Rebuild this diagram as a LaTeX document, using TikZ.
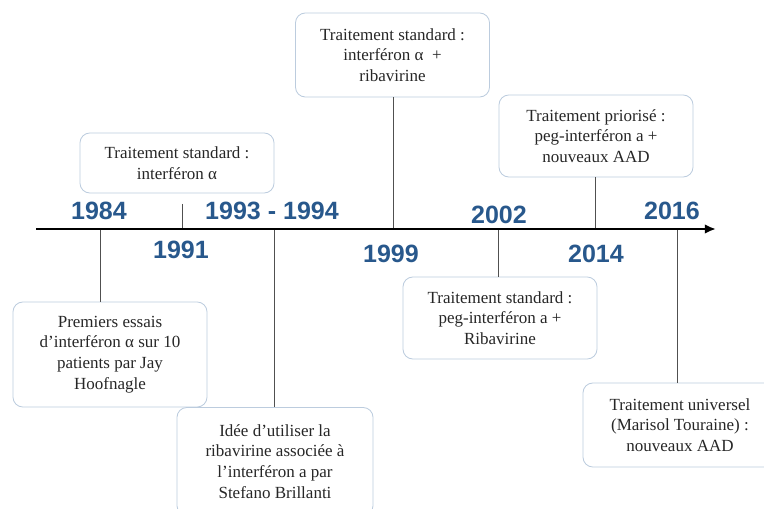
\documentclass[tikz,border=0pt]{standalone}
\usepackage{fontspec}
\setmainfont{Liberation Serif}
\newfontfamily\yearfont{Liberation Sans}
\usetikzlibrary{arrows.meta}
\definecolor{yearblue}{RGB}{40,88,140}
\definecolor{boxline}{RGB}{188,204,222}
\definecolor{stem}{RGB}{80,80,80}

\begin{document}
\begin{tikzpicture}[x=0.25mm,y=-0.25mm,
        evt/.style={draw=boxline,line width=0.6pt,rounded corners=7pt,align=center,
            minimum width=48.5mm,inner sep=0pt,text=black!85,
            font=\fontsize{12.1}{14.8}\selectfont},
        annee/.style={text=yearblue,font=\yearfont\bfseries\fontsize{17.8}{20}\selectfont}]
            \useasboundingbox (0,0) rectangle (764,509);

            % boxes above the line
            \node [evt,minimum height=15mm] (std1) at (177,163) {Traitement standard :\\interféron α};
            \node [evt,minimum height=21mm] (std2) at (392.5,55) {Traitement standard :\\interféron α\ \ +\\ribavirine};
            \node [evt,minimum height=20.5mm] (prio) at (596,136) {Traitement priorisé :\\peg-interféron a +\\nouveaux AAD};

            % boxes below the line
            \node [evt,minimum height=26.25mm] (essais) at (110,354.5) {Premiers essais\\d’interféron α sur 10\\patients par Jay\\Hoofnagle};
            \node [evt,minimum height=27mm,minimum width=49mm] (idee) at (275,461.5) {Idée d’utiliser la\\ribavirine associée à\\l’interféron a par\\Stefano Brillanti};
            \node [evt,minimum height=20.5mm] (peg) at (500,318) {Traitement standard :\\peg-interféron a +\\Ribavirine};
            \node [evt,minimum height=21mm] (univ) at (680,425) {Traitement universel\\(Marisol Touraine) :\\nouveaux AAD};

            % years
            \node [annee] (y1984) at (99,211) {1984};
            \node [annee] (y1991) at (181,250) {1991};
            \node [annee] (y1993) at (272,211) {1993 - 1994};
            \node [annee] (y1999) at (391,254) {1999};
            \node [annee] (y2002) at (499,215) {2002};
            \node [annee] (y2014) at (596,254) {2014};
            \node [annee] (y2016) at (672,211) {2016};

            \coordinate (start) at (36,229);
            \coordinate (end) at (716,229);
            \coordinate (t1984) at (100,229);
            \coordinate (t1991) at (182,229);
            \coordinate (s1991) at (182,204);
            \coordinate (t1993) at (274,229);
            \coordinate (t1999) at (393,229);
            \coordinate (t2002) at (498,229);
            \coordinate (t2014) at (595,229);
            \coordinate (t2016) at (677,229);

            \draw [stem,line width=0.7pt] (t1984) -- (t1984 |- essais.north);
            \draw [stem,line width=0.7pt] (s1991) -- (t1991);
            \draw [stem,line width=0.7pt] (t1993) -- (t1993 |- idee.north);
            \draw [stem,line width=0.7pt] (t1999) -- (t1999 |- std2.south);
            \draw [stem,line width=0.7pt] (t2002) -- (t2002 |- peg.north);
            \draw [stem,line width=0.7pt] (t2014) -- (t2014 |- prio.south);
            \draw [stem,line width=0.7pt] (t2016) -- (t2016 |- univ.north);

            \draw [-{Latex[length=2.8mm,width=2.4mm]}, line width=2.1pt] (start) -- (end);
        \end{tikzpicture}
\end{document}
